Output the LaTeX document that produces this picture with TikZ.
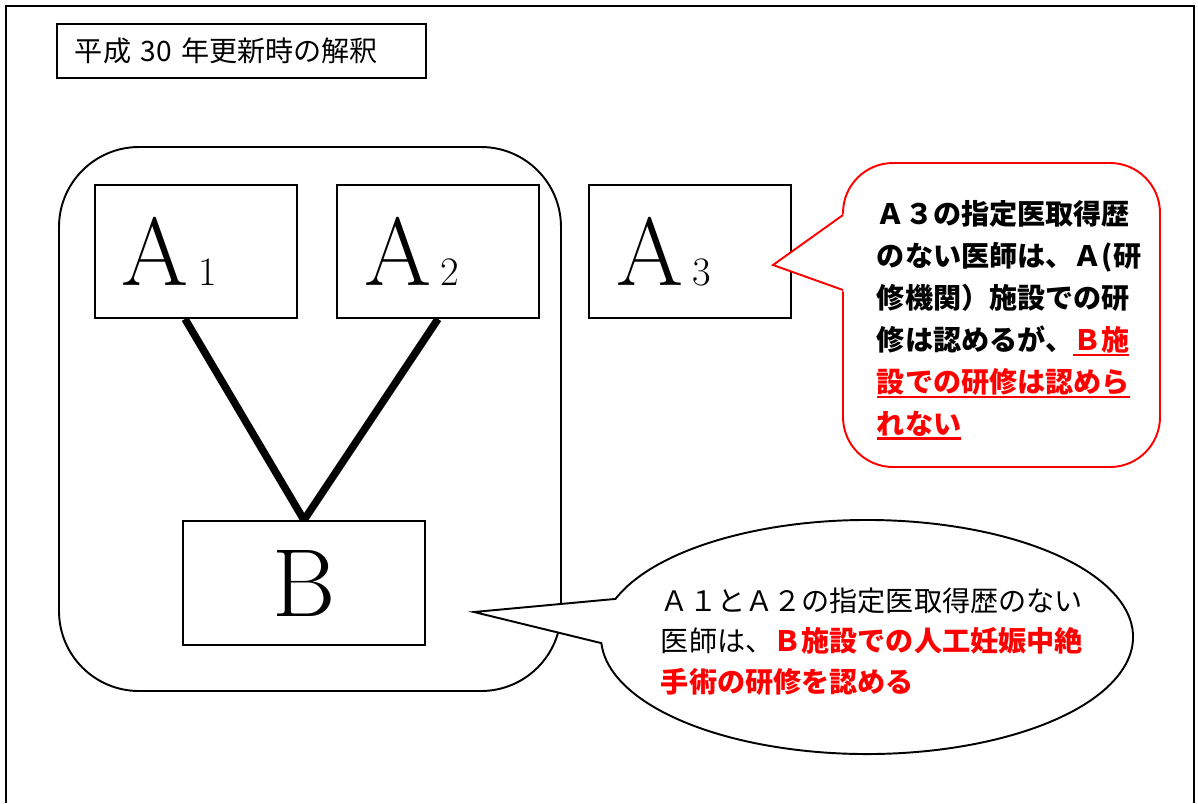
\documentclass[tikz,border=0pt]{standalone}
\usepackage{fontspec}
\newfontfamily\jp{Noto Sans CJK JP}
\usetikzlibrary{positioning}
\newcommand{\facname}[2]{{\fontsize{55}{55}\selectfont #1}\hspace{5.5pt}{\fontsize{23}{23}\selectfont #2}}
\newcommand{\ulred}[1]{\leavevmode\vtop{\hbox{#1}\kern0.6pt\hrule height 1.4pt}}

\begin{document}
\begin{tikzpicture}[x=0.2mm, y=-0.2mm, line width=1.1pt,
unitbox/.style={rectangle, draw, minimum width=40.4mm, minimum height=26.6mm},
leftbox/.style={unitbox, inner xsep=5.4mm, text width=29.6mm, align=left},
heading/.style={rectangle, draw, minimum height=10.8mm, inner xsep=3.6mm, text width=66.6mm, align=left,
      font=\jp\fontsize{16}{16}\selectfont},
link/.style={line width=1.5mm},
talk/.style={text width=100mm, align=left, inner sep=0pt, anchor=base west}]
 \useasboundingbox (0,0) rectangle (1198,803);
 \draw (6,803) -- (6,6) -- (1194,6) -- (1194,803);

 \node[heading] (title) at (241.5,51) {平成 30 年更新時の解釈};

 \draw[rounded corners=16mm] (59,147) rectangle (561,691);
 \node[leftbox] (A1) at (196,251.5) {\facname{A}{1}};
 \node[leftbox, right of=A1, node distance=48.4mm] (A2) {\facname{A}{2}};
 \node[leftbox, right of=A2, node distance=50.4mm] (A3) {\facname{A}{3}};
 \node[unitbox, minimum width=48.4mm, minimum height=24.8mm] (B) at (304,583) {\fontsize{55}{55}\selectfont B};

 \draw[link] ([xshift=-2.2mm]A1.south) -- (B.north);
 \draw[link] (A2.south) -- (B.north);

 % bubble below
 \coordinate (bubble) at (867,637);
 \coordinate (tipB) at (474,612);
 \draw[fill=white] (bubble) ++(199:266 and 117) arc[start angle=199, end angle=537, x radius=266, y radius=117] -- (tipB) -- cycle;
 \node[talk, font=\jp\fontsize{16}{23.3}\selectfont] (note) at (660,611)
   {Ａ１とＡ２の指定医取得歴のない\\医師は、{\color{red}\bfseries Ｂ施設での人工妊娠中絶}\\{\color{red}\bfseries 手術の研修を認める}};

 % callout at A3
 \coordinate (tipA) at (773,265);
 \draw[red, fill=white, rounded corners=10mm] (843,163) rectangle (1160,467);
 \fill[white] (845,213) -- (tipA) -- (845,292) -- cycle;
 \draw[red] (843,215) -- (tipA) -- (843,290);
 \node[talk, font=\jp\bfseries\fontsize{16}{23.9}\selectfont] (warn) at (876,224)
   {Ａ３の指定医取得歴\\のない医師は、Ａ(研\\修機関）施設での研\\修は認めるが、\textcolor{red}{\ulred{Ｂ施}}\\
    \textcolor{red}{\ulred{設での研修は認めら}}\\\textcolor{red}{\ulred{れない}}};
\end{tikzpicture}
\end{document}
